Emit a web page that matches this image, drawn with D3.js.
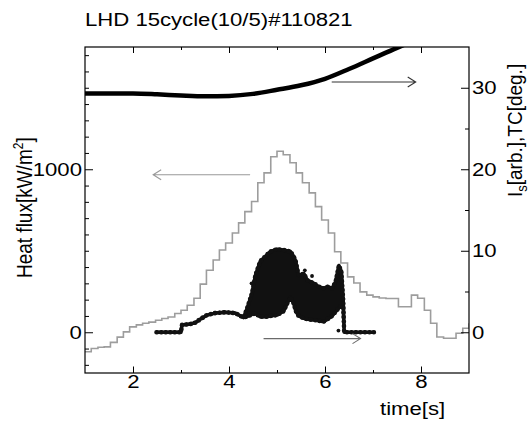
<!DOCTYPE html>
<html>
<head>
<meta charset="utf-8">
<script src="https://cdn.jsdelivr.net/npm/d3@7"></script>
<style>
body { margin: 0; background: #fff; }
text { font-family: "Liberation Sans", Arial, sans-serif; fill: #000; }
</style>
</head>
<body>
<div id="chart"></div>
<script>
// heat flux (left axis), step histogram
const heatTime = [1.00,1.13,1.27,1.40,1.53,1.67,1.80,1.93,2.07,2.20,2.33,2.47,2.60,2.73,2.87,3.00,3.13,3.27,3.40,3.53,
    3.67,3.80,3.93,4.07,4.20,4.33,4.47,4.60,4.73,4.87,5.00,5.13,5.27,5.40,5.53,5.67,5.80,5.93,6.07,6.20,
    6.33,6.47,6.60,6.73,6.87,7.00,7.13,7.27,7.40,7.53,7.67,7.80,7.93,8.07,8.20,8.33,8.47,8.60,8.73,8.87,9.00];
const heatFlux = [-120,-100,-92,-90,-62,-30,2,33,45,55,62,74,84,94,115,135,166,209,295,380,
    443,505,548,609,671,740,802,917,978,1077,1110,1089,1040,978,917,855,771,689,609,494,
    425,340,302,248,228,217,210,207,207,156,156,228,209,135,55,-29,-37,-37,-6,25,55];

// TC (right axis)
const tcTime = [1.0,1.5,2.0,2.5,3.0,3.5,4.0,4.5,5.0,5.5,6.0,6.5,7.0,7.5,7.7];
const tcValue = [29.3,29.3,29.3,29.2,29.05,28.95,29.0,29.25,29.75,30.3,31.1,32.3,33.6,34.9,35.4];

// Is (right axis), upper and lower edge of the dot cloud
const isTime = [2.49,3.00,3.02,3.19,3.31,3.40,3.54,3.71,3.92,4.13,4.30,4.37,4.48,4.55,4.65,4.79,4.86,5.00,5.14,5.21,
    5.28,5.35,5.39,5.45,5.56,5.63,5.77,5.87,5.97,6.05,6.15,6.22,6.29,6.34,6.38,6.40,7.02];
const isUpper = [0,0,0.9,1.0,1.2,1.6,2.1,2.35,2.45,2.35,1.8,2.8,4.8,7.0,8.7,9.5,9.9,10.2,10.1,10.0,
    9.9,9.3,8.7,7.0,7.2,6.4,6.0,5.6,5.4,5.6,5.4,6.2,8.2,7.5,3.9,0,0];
const isLower = [0,0,0.9,1.0,1.2,1.6,2.1,2.35,2.45,2.35,1.8,1.9,2.2,2.3,1.9,1.9,2.0,2.1,2.6,3.5,
    4.3,3.5,2.6,2.0,1.7,1.6,1.5,1.4,1.3,1.6,2.0,2.5,3.0,3.3,3.0,0,0];
const isStrayTime = [5.73,6.28,5.58,4.47];
const isStrayValue = [6.9,0.2,7.6,6.0];

// arrows: [t start, t end, value]
const tcArrow = [6.14, 7.89, 30.7];
const heatArrow = [4.44, 2.42, 966];
const isArrow = [4.72, 6.74, -0.78];

const xMajor = [2,4,6,8], xMinor = [3,5,7];
const leftMajor = [0,1000], leftMinor = d3.range(-200,1800,100).filter(d => d % 1000 !== 0);
const rightMajor = [0,10,20,30], rightMinor = [5,15,25];

const W = 530, H = 421;
const plot = { left: 85, right: 469, top: 47, bottom: 373 };
const sx = 1.23;

const svg = d3.select("#chart").append("svg")
    .attr("width", W).attr("height", H);

const x = d3.scaleLinear().domain([1, 9]).range([plot.left, plot.right]);
const yL = d3.scaleLinear().domain([-250, 1750]).range([plot.bottom, plot.top]);
const yR = d3.scaleLinear().domain([-5, 35]).range([plot.bottom, plot.top]);

svg.append("clipPath").attr("id", "clip")
    .append("rect")
    .attr("x", plot.left).attr("y", plot.top)
    .attr("width", plot.right - plot.left).attr("height", plot.bottom - plot.top);

const g = svg.append("g").attr("clip-path", "url(#clip)");

// heat flux steps
g.append("path")
    .attr("fill", "none")
    .attr("stroke", "#9d9d9d")
    .attr("stroke-width", 1.6)
    .attr("d", d3.line().curve(d3.curveStepAfter)
        .x((d, i) => x(heatTime[i]))
        .y(d => yL(d))(heatFlux));

// Is cloud
const isArea = d3.area()
    .x((d, i) => x(isTime[i]))
    .y0((d, i) => yR(isLower[i]))
    .y1(d => yR(d));

g.append("path")
    .attr("fill", "#111")
    .attr("stroke", "#111")
    .attr("stroke-width", 3.5)
    .attr("stroke-linejoin", "round")
    .attr("stroke-linecap", "round")
    .attr("d", isArea(isUpper));

// dotty edge of the cloud
g.append("path")
    .attr("fill", "none")
    .attr("stroke", "#111")
    .attr("stroke-width", 4.6)
    .attr("stroke-linecap", "round")
    .attr("stroke-dasharray", "0 4.5")
    .attr("d", isArea(isUpper));

g.selectAll(".stray")
    .data(isStrayValue)
    .join("circle")
    .attr("cx", (d, i) => x(isStrayTime[i]))
    .attr("cy", d => yR(d))
    .attr("r", 1.9)
    .attr("fill", "#111");

// TC line
g.append("path")
    .attr("fill", "none")
    .attr("stroke", "#000")
    .attr("stroke-width", 4.5)
    .attr("d", d3.line().curve(d3.curveMonotoneX)
        .x((d, i) => x(tcTime[i]))
        .y(d => yR(d))(tcValue));

function arrow(a, yScale, color) {
    const x1 = x(a[0]), x2 = x(a[1]), y0 = yScale(a[2]);
    const dir = x2 > x1 ? 1 : -1;
    const p = d3.path();
    p.moveTo(x1, y0); p.lineTo(x2, y0);
    p.moveTo(x2 - dir * 8, y0 - 5); p.lineTo(x2, y0); p.lineTo(x2 - dir * 8, y0 + 5);
    svg.append("path")
        .attr("d", p.toString())
        .attr("fill", "none")
        .attr("stroke", color)
        .attr("stroke-width", 1.1);
}
arrow(tcArrow, yR, "#333");
arrow(heatArrow, yL, "#999");
arrow(isArrow, yR, "#6a6a6a");

// axes
function styleAxis(sel) {
    sel.select(".domain").remove();
    sel.selectAll("line").attr("stroke", "#000").attr("stroke-width", 1);
    sel.selectAll("text")
        .style("font-size", "18px")
        .style("font-family", "'Liberation Sans', Arial, sans-serif")
        .attr("fill", "#000")
        .attr("transform", `scale(${sx},1)`);
}

svg.append("g").attr("transform", `translate(0,${plot.bottom})`)
    .call(d3.axisBottom(x).tickValues(xMajor).tickSize(-6.5).tickPadding(2).tickFormat(d3.format("d")))
    .call(styleAxis);
svg.append("g").attr("transform", `translate(0,${plot.bottom})`)
    .call(d3.axisBottom(x).tickValues(xMinor).tickSize(-3).tickFormat(""))
    .call(styleAxis);
svg.append("g").attr("transform", `translate(0,${plot.top})`)
    .call(d3.axisTop(x).tickValues(xMajor).tickSize(-6).tickFormat(""))
    .call(styleAxis);
svg.append("g").attr("transform", `translate(0,${plot.top})`)
    .call(d3.axisTop(x).tickValues(xMinor).tickSize(-3).tickFormat(""))
    .call(styleAxis);

svg.append("g").attr("transform", `translate(${plot.left},0)`)
    .call(d3.axisLeft(yL).tickValues(leftMajor).tickSize(-8).tickPadding(2.5).tickFormat(d3.format("d")))
    .call(styleAxis);
svg.append("g").attr("transform", `translate(${plot.left},0)`)
    .call(d3.axisLeft(yL).tickValues(leftMinor).tickSize(-4).tickFormat(""))
    .call(styleAxis);

svg.append("g").attr("transform", `translate(${plot.right},0)`)
    .call(d3.axisRight(yR).tickValues(rightMajor).tickSize(-8).tickPadding(2.5).tickFormat(d3.format("d")))
    .call(styleAxis);
svg.append("g").attr("transform", `translate(${plot.right},0)`)
    .call(d3.axisRight(yR).tickValues(rightMinor).tickSize(-4).tickFormat(""))
    .call(styleAxis);

// frame
svg.append("rect")
    .attr("x", plot.left).attr("y", plot.top)
    .attr("width", plot.right - plot.left).attr("height", plot.bottom - plot.top)
    .attr("fill", "none").attr("stroke", "#000").attr("stroke-width", 1.2);

// titles
svg.append("text")
    .attr("transform", `translate(85,26) scale(${sx},1)`)
    .style("font-size", "18px")
    .text("LHD 15cycle(10/5)#110821");

svg.append("text")
    .attr("transform", `translate(380,415) scale(${sx},1)`)
    .style("font-size", "18px")
    .text("time[s]");

const yl = svg.append("text")
    .attr("transform", "translate(31.5,278) rotate(-90) scale(1,1.2)")
    .style("font-size", "19px");
yl.append("tspan").text("Heat flux[kW/m");
yl.append("tspan").attr("dy", -7).style("font-size", "12px").text("2");
yl.append("tspan").attr("dy", 7).text("]");

const yr = svg.append("text")
    .attr("transform", "translate(521.5,197) rotate(-90) scale(1,1.08)")
    .style("font-size", "19px");
yr.append("tspan").text("I");
yr.append("tspan").attr("dy", 5).style("font-size", "13px").text("s");
yr.append("tspan").attr("dy", -5).text("[arb.],TC[deg.]");
</script>
</body>
</html>
